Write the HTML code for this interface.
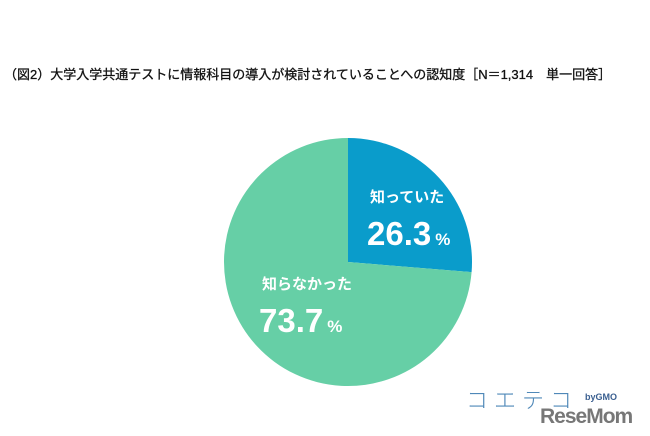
<!DOCTYPE html>
<html><head><meta charset="utf-8"><style>
body{margin:0;width:650px;height:436px;background:#fff;overflow:hidden;position:relative;font-family:"Liberation Sans","Noto Sans CJK JP",sans-serif}
#title{position:absolute;left:4px;top:64px;font-size:13px;color:#111;white-space:nowrap;letter-spacing:0px;-webkit-text-stroke:0.3px #111}
</style></head><body>
<div id="title">（図2）大学入学共通テストに情報科目の導入が検討されていることへの認知度［N＝1,314　単一回答］</div>
<svg id="pie" width="650" height="436" style="position:absolute;left:0;top:0"></svg>
<div style="position:absolute;left:466px;top:383px;font-size:22px;color:#4f88b8;letter-spacing:6px;font-family:'Noto Sans CJK JP',sans-serif;font-weight:300">コエテコ</div>
<div style="position:absolute;left:585px;top:392px;font-size:9px;color:#3a5f90;font-weight:bold">byGMO</div>
<div style="position:absolute;left:540px;top:405px;font-size:21px;color:#777;font-weight:bold;letter-spacing:-1px">ReseMom</div>
<script>
const categories=["知っていた","知らなかった"];
const values=[26.3,73.7];
const colors=["#0a9ccb","#66cfa6"];
const NS="http://www.w3.org/2000/svg";
const svg=document.getElementById('pie');
const cx=348,cy=262,r=124;
const total=values.reduce((a,b)=>a+b,0);
let a0=0;
function pt(a,rr){return [cx+rr*Math.sin(a),cy-rr*Math.cos(a)];}
values.forEach((v,i)=>{
  const a1=a0+v/total*2*Math.PI;
  const p0=pt(a0,r),p1=pt(a1,r);
  const large=(a1-a0)>Math.PI?1:0;
  const path=document.createElementNS(NS,'path');
  path.setAttribute('d',`M${cx},${cy} L${p0[0]},${p0[1]} A${r},${r} 0 ${large} 1 ${p1[0]},${p1[1]} Z`);
  path.setAttribute('fill',colors[i]);
  
  
  svg.appendChild(path);
  a0=a1;
});
const labelPos=[[370,202],[262,289]];
values.forEach((v,i)=>{
  const [x,y]=labelPos[i];
  const t=document.createElementNS(NS,'text');
  t.setAttribute('x',x);t.setAttribute('y',y);
  t.setAttribute('fill','#fff');t.setAttribute('font-size','15');t.setAttribute('font-weight','bold');
  t.setAttribute('font-family','"Noto Sans CJK JP",sans-serif');
  t.textContent=categories[i];
  
  
  svg.appendChild(t);
  const n=document.createElementNS(NS,'text');
  n.setAttribute('x',x-3);n.setAttribute('y',y+43);
  n.setAttribute('fill','#fff');n.setAttribute('font-size','33');n.setAttribute('font-weight','bold');
  n.setAttribute('font-family','"Liberation Sans",sans-serif');
  n.textContent=v.toFixed(1);
  const s=document.createElementNS(NS,'tspan');
  s.setAttribute('font-size','17');s.setAttribute('dx','4');s.textContent='%';
  n.appendChild(s);
  
  
  svg.appendChild(n);
});
</script>
</body></html>
